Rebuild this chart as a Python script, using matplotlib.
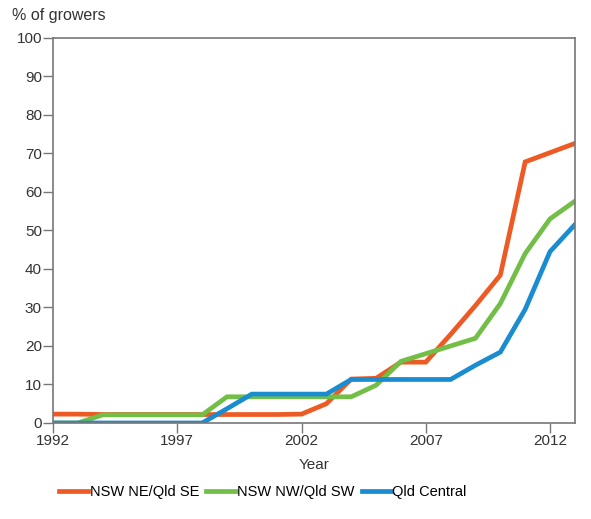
import matplotlib.pyplot as plt

# growers adopting the practice, by region
years = list(range(1992, 2014))
nsw_ne_qld_se = [2.3, 2.3, 2.2, 2.2, 2.2, 2.2, 2.2, 2.2, 2.2, 2.2, 2.3, 5,
                 11.4, 11.6, 15.8, 15.8, 23, 30.5, 38.4, 67.8, 70.2, 72.6]
nsw_nw_qld_sw = [0, 0, 2.1, 2.1, 2.1, 2.1, 2.1, 6.8, 6.8, 6.8, 6.8, 6.8,
                 6.8, 9.8, 16, 18, 20, 22, 31, 44, 53, 57.6]
qld_central = [0, 0, 0, 0, 0, 0, 0, 3.7, 7.5, 7.5, 7.5, 7.5,
               11.3, 11.3, 11.3, 11.3, 11.3, 15, 18.4, 29.5, 44.5, 51.5]

series = ['NSW NE/Qld SE', 'NSW NW/Qld SW', 'Qld Central']
colors = ['#ee5a24', '#72be46', '#1a8cd0']
xticks = [1992, 1997, 2002, 2007, 2012]
yticks = list(range(0, 101, 10))

plt.rcParams['font.family'] = ['Liberation Sans', 'DejaVu Sans']
plt.rcParams['font.size'] = 11

fig = plt.figure(figsize=(5.91, 5.19), dpi=100)
ax = fig.add_axes([0.0897, 0.185, 0.883, 0.742])

for vals, name, c in zip([nsw_ne_qld_se, nsw_nw_qld_sw, qld_central], series, colors):
    ax.plot(years, vals, color=c, lw=3.4, label=name, solid_joinstyle='miter')

ax.set_xlim(1992, 2013)
ax.set_ylim(0, 100)
ax.set_xticks(xticks)
ax.set_yticks(yticks)
ax.tick_params(direction='out', length=7, width=1, color='#777777', labelcolor='#333333', pad=1)
for s in ax.spines.values():
    s.set_color('#777777')
    s.set_linewidth(1.2)

ax.set_xlabel('Year', color='#333333', labelpad=7)
fig.text(0.02, 0.97, '% of growers', color='#333333', ha='left', va='center', fontsize=11.5)

leg = fig.legend(loc='center', bbox_to_anchor=(0.445, 0.052), ncol=3, frameon=False,
                 handlelength=2.0, handletextpad=0.1, columnspacing=0.5, fontsize=10.5)

fig.savefig('out.png', dpi=100)
